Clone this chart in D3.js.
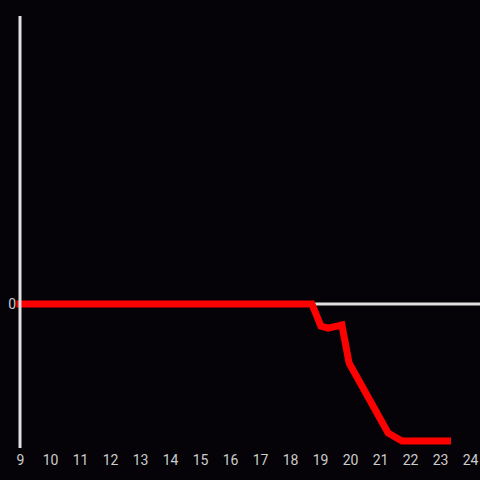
<!DOCTYPE html>
<html><head><meta charset="utf-8">
<script src="https://cdn.jsdelivr.net/npm/d3@7"></script>
<style>html,body{margin:0;padding:0;background:#050307;}svg{display:block;}</style>
</head><body><svg id="c" width="480" height="480"></svg>
<script>
const hours = [9, 18.73, 19.03, 19.27, 19.73, 19.97, 21.27, 21.73, 23.25];
const values = [0, 0, -0.153, -0.167, -0.146, -0.41, -0.896, -0.951, -0.951];
const xTicks = [9,10,11,12,13,14,15,16,17,18,19,20,21,22,23,24];
const yTicks = [0];

const svg = d3.select("#c");
svg.append("rect").attr("width",480).attr("height",480).attr("fill","#050307");
const x = d3.scaleLinear().domain([9,24]).range([20,470]);
const y = d3.scaleLinear().domain([-1,2]).range([448,16]);

// zero line
svg.append("line").attr("x1",x(9)).attr("x2",480).attr("y1",y(0)).attr("y2",y(0))
  .attr("stroke","#e0e0e0").attr("stroke-width",3);

const line = d3.line().x((d,i)=>x(hours[i])).y(d=>y(d));
svg.append("path").attr("d",line(values)).attr("fill","none")
  .attr("stroke","#ff0000").attr("stroke-width",7).attr("stroke-linecap","square");

// y axis line
svg.append("line").attr("x1",x(9)).attr("x2",x(9)).attr("y1",16).attr("y2",448)
  .attr("stroke","#e0e0e0").attr("stroke-width",3);

const xAxis = d3.axisBottom(x).tickValues(xTicks).tickSize(0).tickPadding(0).tickFormat(d3.format("d"));
const gx = svg.append("g").attr("transform","translate(0,452)").call(xAxis);
gx.select(".domain").remove();
gx.selectAll("text").attr("fill","#cccccc").attr("font-family","Roboto, sans-serif").attr("font-size",14).attr("dy","0.95em");

const yAxis = d3.axisLeft(y).tickValues(yTicks).tickSize(0).tickPadding(4).tickFormat(d3.format("d"));
const gy = svg.append("g").attr("transform","translate(20,0)").call(yAxis);
gy.select(".domain").remove();
gy.selectAll("text").attr("fill","#cccccc").attr("font-family","Roboto, sans-serif").attr("font-size",14);
</script></body></html>
